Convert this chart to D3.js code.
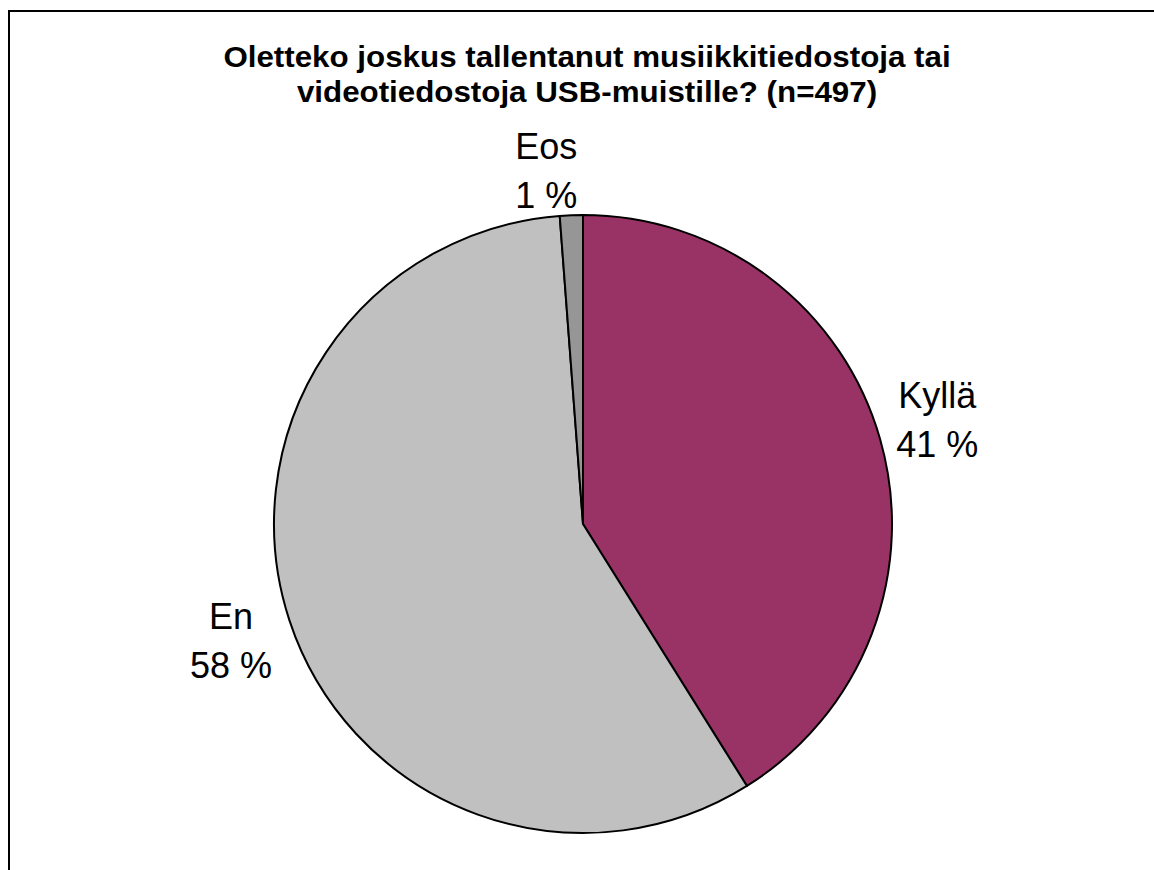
<!DOCTYPE html>
<html>
<head>
<meta charset="utf-8">
<script src="https://cdn.jsdelivr.net/npm/d3@7"></script>
<style>
  html, body { margin: 0; padding: 0; background: #fff; }
  svg { display: block; font-family: Arial, "Liberation Sans", sans-serif; }
</style>
</head>
<body>
<div id="chart"></div>
<script>
// Data (percent of n=497)
const categories = ['Kyllä', 'En', 'Eos'];
const values     = [41.1, 57.7, 1.2];
const valueLabels = ['41 %', '58 %', '1 %'];
const titleLines = [
  'Oletteko joskus tallentanut musiikkitiedostoja tai',
  'videotiedostoja USB-muistille? (n=497)'
];

const W = 1154, H = 870;
const cx = 583, cy = 524, R = 309;
const colors = ['#993366', '#C0C0C0', '#969696'];
// label placement outside the pie (extra radius, angle nudge in degrees)
const labelExtra = [57, 66, 34];
const labelNudge = [1.5, -2, -4];

const svg = d3.select('#chart').append('svg')
  .attr('width', W).attr('height', H)
  .attr('viewBox', `0 0 ${W} ${H}`);

// Chart frame (right and bottom run off the picture)
svg.append('rect')
  .attr('x', 9).attr('y', 11)
  .attr('width', W + 20).attr('height', H + 20)
  .attr('fill', 'none')
  .attr('stroke', '#000')
  .attr('stroke-width', 2);

// Title (the original is rendered slightly wide)
svg.append('g')
  .attr('transform', 'translate(587,0) scale(1.08,1)')
  .append('text')
  .attr('x', 0).attr('y', 67)
  .attr('text-anchor', 'middle')
  .attr('font-size', '29px')
  .attr('font-weight', 'bold')
  .attr('fill', '#000')
  .selectAll('tspan')
  .data(titleLines).enter()
  .append('tspan')
  .attr('x', 0)
  .attr('dy', (_, i) => i === 0 ? 0 : 35)
  .text(d => d);

const data = categories.map((c, i) => ({ name: c, value: values[i], label: valueLabels[i], i }));

const pie = d3.pie()
  .value(d => d.value)
  .sort(null);

const arc = d3.arc().innerRadius(0).outerRadius(R);

const arcs = pie(data);

const g = svg.append('g').attr('transform', `translate(${cx},${cy})`);

g.selectAll('path.slice')
  .data(arcs).enter()
  .append('path')
  .attr('class', 'slice')
  .attr('d', arc)
  .attr('fill', d => colors[d.data.i])
  .attr('stroke', '#000')
  .attr('stroke-width', 2)
  .attr('stroke-linejoin', 'round');

// Labels: category on first line, percent on second
const labels = g.selectAll('text.slice-label')
  .data(arcs).enter()
  .append('text')
  .attr('class', 'slice-label')
  .attr('text-anchor', 'middle')
  .attr('font-size', '36px')
  .attr('fill', '#000')
  .attr('transform', d => {
    const a = (d.startAngle + d.endAngle) / 2 + labelNudge[d.data.i] * Math.PI / 180;
    const rr = R + labelExtra[d.data.i];
    return `translate(${Math.sin(a) * rr},${-Math.cos(a) * rr})`;
  });

labels.append('tspan')
  .attr('x', 0).attr('y', -24)
  .text(d => d.data.name);

labels.append('tspan')
  .attr('x', 0).attr('y', 25)
  .text(d => d.data.label);
</script>
</body>
</html>
